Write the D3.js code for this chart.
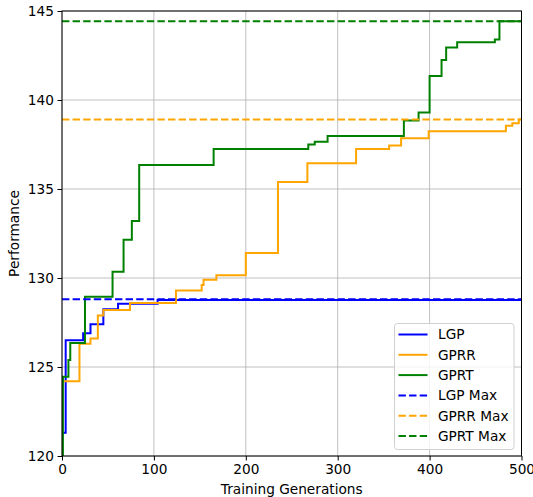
<!DOCTYPE html>
<html><head><meta charset="utf-8">
<script src="https://cdn.jsdelivr.net/npm/d3@7"></script>
<style>body{margin:0;background:#fff}svg{display:block;font-family:"DejaVu Sans",sans-serif}</style>
</head><body><svg id="c" width="533" height="497"></svg>
<script>
const lgp = [[0,121.3],[4,126.5],[23,126.9],[31,127.4],[45,128.25],[61,128.55],[104,128.76],[500,128.76]];
const gprr = [[0,124.2],[19,126.3],[31,126.6],[39,127.9],[45,128.2],[74,128.6],[124,129.3],[152,129.6],[154,129.9],[168,130.15],[200,131.4],[235,135.4],[267,136.45],[320,137.25],[356,137.45],[369,137.85],[399,138.25],[483,138.55],[490,138.7],[497,138.9],[500,138.9]];
const gprt = [[0,120],[1,124.45],[7,125.4],[9,126.35],[25,128.95],[55,130.35],[67,132.15],[76,133.2],[84,136.35],[165,137.25],[268,137.5],[275,137.65],[289,137.98],[372,138.85],[388,139.3],[400,141.35],[413,142.25],[418,142.95],[430,143.25],[471,143.4],[476,144.42],[500,144.42]];
const maxVals = {lgp:128.81, gprr:138.9, gprt:144.42};
const seriesNames = ["LGP","GPRR","GPRT","LGP Max","GPRR Max","GPRT Max"];
const colors = ["blue","orange","green","blue","orange","green"];
const xTicks = [0,100,200,300,400,500];
const yTicks = [120,125,130,135,140,145];

const FS = 13.7;
const svg = d3.select("#c");
const L=62,R=521.5,T=11,B=456;
const x = d3.scaleLinear().domain([0,500]).range([L,R]);
const y = d3.scaleLinear().domain([120,145]).range([B,T]);

// grid
svg.append("g").selectAll("line").data(xTicks).join("line")
 .attr("x1",d=>x(d)).attr("x2",d=>x(d)).attr("y1",T).attr("y2",B)
 .attr("stroke","#b0b0b0").attr("stroke-width",0.8);
svg.append("g").selectAll("line").data(yTicks).join("line")
 .attr("y1",d=>y(d)).attr("y2",d=>y(d)).attr("x1",L).attr("x2",R)
 .attr("stroke","#b0b0b0").attr("stroke-width",0.8);

svg.append("defs").append("clipPath").attr("id","clip").append("rect")
 .attr("x",L).attr("y",T).attr("width",R-L).attr("height",B-T);
const g = svg.append("g").attr("clip-path","url(#clip)");
const line = d3.line().x(d=>x(d[0])).y(d=>y(d[1])).curve(d3.curveStepAfter);
[lgp,gprr,gprt].forEach((s,i)=>{
  g.append("path").attr("d",line(s)).attr("fill","none").attr("stroke",colors[i]).attr("stroke-width",2);
});
[maxVals.lgp,maxVals.gprr,maxVals.gprt].forEach((v,i)=>{
  g.append("path").attr("d",line([[0,v],[500,v]])).attr("fill","none").attr("stroke",colors[i+3])
   .attr("stroke-width",2).attr("stroke-dasharray","7.4,3.2");
});

// axes
const ax = svg.append("g").attr("transform",`translate(0,${B})`).call(d3.axisBottom(x).tickValues(xTicks).tickSizeOuter(0).tickSize(4.5).tickPadding(3.5));
const ay = svg.append("g").attr("transform",`translate(${L},0)`).call(d3.axisLeft(y).tickValues(yTicks).tickSizeOuter(0).tickSize(4.5).tickPadding(3.5));
[ax,ay].forEach(a=>{a.select(".domain").remove();a.selectAll("text").attr("font-size",FS).attr("fill","#000").attr("font-family","DejaVu Sans");a.selectAll("line").attr("stroke","#000").attr("stroke-width",1);});
svg.append("rect").attr("x",L).attr("y",T).attr("width",R-L).attr("height",B-T)
 .attr("fill","none").attr("stroke","#000").attr("stroke-width",1);

svg.append("text").attr("x",(L+R)/2).attr("y",494).attr("text-anchor","middle").attr("font-size",FS).text("Training Generations");
svg.append("text").attr("transform",`translate(19,${(T+B)/2}) rotate(-90)`).attr("text-anchor","middle").attr("font-size",FS).text("Performance");

// legend
const lg = svg.append("g");
lg.append("rect").attr("x",394.5).attr("y",323.5).attr("width",119.5).attr("height",126).attr("rx",3)
 .attr("fill","#fff").attr("fill-opacity",0.8).attr("stroke","#d0d0d0").attr("stroke-width",1);
const rowY = i=>334.5+i*20.3;
seriesNames.forEach((n,i)=>{
  lg.append("line").attr("x1",398.5).attr("x2",427.5).attr("y1",rowY(i)).attr("y2",rowY(i))
   .attr("stroke",colors[i]).attr("stroke-width",2).attr("stroke-dasharray",i>=3?"7.4,3.2":null);
  lg.append("text").attr("x",438).attr("y",rowY(i)+4.9).attr("font-size",FS).text(n);
});
</script></body></html>
